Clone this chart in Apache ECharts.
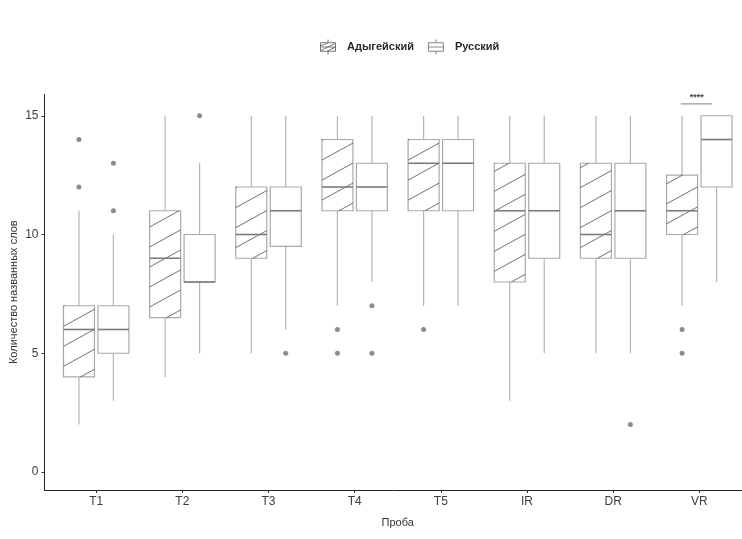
<!DOCTYPE html>
<html>
<head>
<meta charset="utf-8">
<script src="https://cdn.jsdelivr.net/npm/echarts@6/dist/echarts.min.js"></script>
<style>html,body{margin:0;padding:0;background:#fff;}#chart{width:742px;height:539px;}</style>
</head>
<body>
<div id="chart"></div>
<script>
// ---- data ----
const categories = ['T1', 'T2', 'T3', 'T4', 'T5', 'IR', 'DR', 'VR'];
const groupNames = ['Адыгейский', 'Русский'];
// [min, Q1, median, Q3, max] per category
const adygBoxes = [
  [2, 4, 6, 7, 11],
  [4, 6.5, 9, 11, 15],
  [5, 9, 10, 12, 15],
  [7, 11, 12, 14, 15],
  [7, 11, 13, 14, 15],
  [3, 8, 11, 13, 15],
  [5, 9, 10, 13, 15],
  [7, 10, 11, 12.5, 15]
];
const rusBoxes = [
  [3, 5, 6, 7, 10],
  [5, 8, 8, 10, 13],
  [6, 9.5, 11, 12, 15],
  [8, 11, 12, 13, 15],
  [7, 11, 13, 14, 15],
  [5, 9, 11, 13, 15],
  [5, 9, 11, 13, 15],
  [8, 12, 14, 15, 15]
];
// [category index, value]
const adygOutliers = [[0, 14], [0, 12], [3, 6], [3, 5], [4, 6], [7, 6], [7, 5]];
const rusOutliers = [[0, 13], [0, 11], [1, 15], [2, 5], [3, 7], [3, 5], [6, 2]];
// significance annotation: [category index, bracket value, label]
const sigMarks = [[7, 15.5, '****']];
const yTicks = [0, 5, 10, 15];
const xTitle = 'Проба';
const yTitle = 'Количество названных слов';

// ---- rendering ----
const DODGE = 0.2, HALFW = 0.18;
const boxColor = '#a9a9a9', whiskerColor = '#b4b4b4', medianColor = '#7b7b7b', hatchColor = '#333';

function boxRenderer(offset, hatched) {
  return function (params, api) {
    const xc = api.value(0) + 1 + offset;
    const mn = api.value(1), q1 = api.value(2), md = api.value(3), q3 = api.value(4), mx = api.value(5);
    const pTL = api.coord([xc - HALFW, q3]);
    const pBR = api.coord([xc + HALFW, q1]);
    const pc = api.coord([xc, md]);
    const pMin = api.coord([xc, mn]);
    const pMax = api.coord([xc, mx]);
    const x0 = pTL[0], x1 = pBR[0], yT = pTL[1], yB = pBR[1];
    const children = [];
    children.push({type: 'line', shape: {x1: pc[0], y1: yT, x2: pc[0], y2: pMax[1]}, style: {stroke: whiskerColor, lineWidth: 1.2}});
    children.push({type: 'line', shape: {x1: pc[0], y1: yB, x2: pc[0], y2: pMin[1]}, style: {stroke: whiskerColor, lineWidth: 1.2}});
    children.push({type: 'rect', shape: {x: x0, y: yT, width: x1 - x0, height: yB - yT}, style: {fill: '#fff', stroke: boxColor, lineWidth: 1.2}});
    if (hatched) {
      const m = 0.55, s = 20;
      const Kref = yB + m * (x0 + (x1 - x0) * 0.55);
      const Kmin = yT + m * x0, Kmax = yB + m * x1;
      let k0 = Math.ceil((Kmin - Kref) / s);
      for (let K = Kref + k0 * s; K <= Kmax; K += s) {
        const xa = Math.max(x0, (K - yB) / m);
        const xb = Math.min(x1, (K - yT) / m);
        if (xb - xa > 0.5) {
          children.push({type: 'line', shape: {x1: xa, y1: K - m * xa, x2: xb, y2: K - m * xb}, style: {stroke: hatchColor, lineWidth: 0.7}});
        }
      }
    }
    children.push({type: 'line', shape: {x1: x0, y1: pc[1], x2: x1, y2: pc[1]}, style: {stroke: medianColor, lineWidth: 1.6}});
    return {type: 'group', children: children};
  };
}

function toBoxData(arr) { return arr.map((b, i) => [i].concat(b)); }
function toPointData(arr, offset) { return arr.map(p => [p[0] + 1 + offset, p[1]]); }

const iconBox = 'M1,3H15V11H1Z M1,7H15 M8,0V3 M8,11V14';
const iconHatch = iconBox + ' M1,6L8,3 M1,10.5L15,3.5 M7,11L15,7';

const chart = echarts.init(document.getElementById('chart'), null, {renderer: 'canvas'});
chart.setOption({
  animation: false,
  backgroundColor: '#fff',
  textStyle: {fontFamily: 'Liberation Sans'},
  legend: {
    top: 34, left: 315, itemWidth: 18, itemHeight: 15, itemGap: 14,
    textStyle: {fontSize: 11, color: '#2a2a2a', fontWeight: 'bold', padding: [0, 0, 0, 5], fontFamily: 'Liberation Sans'},
    data: [
      {name: groupNames[0], icon: 'path://' + iconHatch, itemStyle: {color: 'transparent', borderColor: '#777', borderWidth: 1}},
      {name: groupNames[1], icon: 'path://' + iconBox, itemStyle: {color: 'transparent', borderColor: '#888', borderWidth: 1}}
    ]
  },
  grid: {left: 44.5, right: -9, top: 94.4, bottom: 49, containLabel: false, outerBoundsMode: 'none'},
  xAxis: {
    type: 'value', min: 0.4, max: 8.6,
    name: xTitle, nameLocation: 'middle', nameGap: 27, nameMoveOverlap: false,
    nameTextStyle: {fontSize: 11, color: '#333'},
    splitLine: {show: false},
    axisLine: {show: true, onZero: false, lineStyle: {color: '#222', width: 1}},
    axisTick: {show: true, length: 3, lineStyle: {color: '#333'}, customValues: categories.map((c, i) => i + 1)},
    axisLabel: {fontSize: 12, color: '#3d3d3d', margin: 6, customValues: categories.map((c, i) => i + 1),
      formatter: v => categories[Math.round(v) - 1]}
  },
  yAxis: {
    type: 'value', min: -0.76, max: 15.9,
    name: yTitle, nameLocation: 'middle', nameGap: 25, nameMoveOverlap: false,
    nameTextStyle: {fontSize: 11, color: '#333'},
    splitLine: {show: false},
    axisLine: {show: true, onZero: false, lineStyle: {color: '#222', width: 1}},
    axisTick: {show: true, length: 3, lineStyle: {color: '#333'}, customValues: yTicks},
    axisLabel: {fontSize: 12, color: '#3d3d3d', margin: 6, customValues: yTicks}
  },
  series: [
    {name: groupNames[0], type: 'custom', renderItem: boxRenderer(-DODGE, true), data: toBoxData(adygBoxes),
      encode: {x: 0, y: [1, 2, 3, 4, 5]}, itemStyle: {color: '#777'}, z: 2},
    {name: groupNames[1], type: 'custom', renderItem: boxRenderer(DODGE, false), data: toBoxData(rusBoxes),
      encode: {x: 0, y: [1, 2, 3, 4, 5]}, itemStyle: {color: '#888'}, z: 2},
    {name: groupNames[0], type: 'scatter', data: toPointData(adygOutliers, -DODGE), symbolSize: 5,
      itemStyle: {color: '#6f6f6f'}, z: 3},
    {name: groupNames[1], type: 'scatter', data: toPointData(rusOutliers, DODGE), symbolSize: 5,
      itemStyle: {color: '#6f6f6f'}, z: 3},
    {type: 'custom', data: sigMarks, clip: false, z: 4,
      encode: {x: 0, y: 1},
      renderItem: function (params, api) {
        const c = api.value(0) + 1, yv = api.value(1);
        const a = api.coord([c - 0.215, yv]);
        const b = api.coord([c + 0.148, yv]);
        const t = api.coord([c - 0.03, yv]);
        return {type: 'group', children: [
          {type: 'line', shape: {x1: a[0], y1: a[1], x2: b[0], y2: b[1]}, style: {stroke: '#9a9a9a', lineWidth: 1.4}},
          {type: 'text', x: t[0], y: t[1] - 2, style: {text: sigMarks[params.dataIndex][2], fill: '#444', font: 'bold 9px Liberation Sans', align: 'center', verticalAlign: 'bottom'}}
        ]};
      }}
  ]
});
</script>
</body>
</html>
